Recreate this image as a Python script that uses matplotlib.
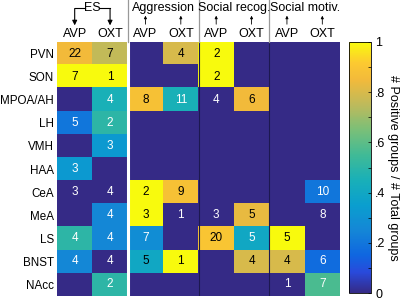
import numpy as np
import matplotlib
matplotlib.use("Agg")
import matplotlib.pyplot as plt
from matplotlib.colors import LinearSegmentedColormap

plt.rcParams['font.family'] = ['Liberation Sans', 'DejaVu Sans']

# Data
regions = ['PVN', 'SON', 'MPOA/AH', 'LH', 'VMH', 'HAA', 'CeA', 'MeA', 'LS', 'BNST', 'NAcc']
groups = ['ES', 'Aggression', 'Social recog.', 'Social motiv.']
peptides = ['AVP', 'OXT']

# fraction of positive groups, columns: ES AVP, ES OXT, Agg AVP, Agg OXT, SR AVP, SR OXT, SM AVP, SM OXT
frac = [
    [0.85, 0.76, 0.00, 0.80, 1.00, 0.00, 0.00, 0.00],
    [1.00, 1.00, 0.00, 0.00, 1.00, 0.00, 0.00, 0.00],
    [0.00, 0.45, 0.88, 0.45, 0.00, 0.85, 0.00, 0.00],
    [0.20, 0.50, 0.00, 0.00, 0.00, 0.00, 0.00, 0.00],
    [0.00, 0.33, 0.00, 0.00, 0.00, 0.00, 0.00, 0.00],
    [0.33, 0.00, 0.00, 0.00, 0.00, 0.00, 0.00, 0.00],
    [0.00, 0.00, 1.00, 0.88, 0.00, 0.00, 0.00, 0.20],
    [0.00, 0.25, 1.00, 0.00, 0.00, 0.83, 0.00, 0.00],
    [0.50, 0.25, 0.28, 0.00, 0.90, 0.40, 1.00, 0.00],
    [0.25, 0.00, 0.40, 1.00, 0.00, 0.80, 0.80, 0.17],
    [0.00, 0.50, 0.00, 0.00, 0.00, 0.00, 0.00, 0.57],
]
n = np.nan
# number of total groups (nan = no study)
totals = [
    [22, 7, n, 4, 2, n, n, n],
    [7, 1, n, n, 2, n, n, n],
    [n, 4, 8, 11, 4, 6, n, n],
    [5, 2, n, n, n, n, n, n],
    [n, 3, n, n, n, n, n, n],
    [3, n, n, n, n, n, n, n],
    [3, 4, 2, 9, n, n, n, 10],
    [n, 4, 3, 1, 3, 5, n, 8],
    [4, 4, 7, n, 20, 5, 5, n],
    [4, 4, 5, 1, n, 4, 4, 6],
    [n, 2, n, n, n, n, 1, 7],
]

# parula-like colormap
parula = LinearSegmentedColormap.from_list('parula', [
    (0.00, (0.208, 0.166, 0.529)),
    (0.08, (0.160, 0.290, 0.860)),
    (0.15, (0.060, 0.400, 0.880)),
    (0.25, (0.080, 0.530, 0.840)),
    (0.35, (0.040, 0.620, 0.810)),
    (0.45, (0.100, 0.690, 0.720)),
    (0.55, (0.250, 0.730, 0.590)),
    (0.65, (0.480, 0.750, 0.470)),
    (0.75, (0.740, 0.730, 0.360)),
    (0.85, (0.950, 0.730, 0.230)),
    (0.92, (0.990, 0.790, 0.190)),
    (1.00, (0.976, 0.983, 0.054)),
])

fig = plt.figure(figsize=(4, 3), dpi=100)
ax = fig.add_axes([0.1425, 0.0133, 0.7075, 0.8467])
cax = fig.add_axes([0.8725, 0.0233, 0.055, 0.8367])

data = np.array(frac)
im = ax.imshow(data, cmap=parula, vmin=0, vmax=1, aspect='auto')

black_extra = {(9, 2)}
for i in range(len(regions)):
    for j in range(data.shape[1]):
        t = totals[i][j]
        if np.isnan(t):
            continue
        c = 'black' if (data[i, j] > 0.6 or (i, j) in black_extra) else 'white'
        ax.text(j, i, f"{int(t)}", ha='center', va='center', fontsize=8.5, color=c)

ax.set_xticks([])
ax.set_yticks(range(len(regions)))
ax.set_yticklabels(regions, fontsize=8.4)
ax.tick_params(axis='y', length=0, pad=2)
for s in ax.spines.values():
    s.set_visible(False)

# separators inside the heatmap
ax.axvline(1.5, color='white', lw=2.2)
ax.axvline(3.5, color='#1c1850', lw=0.8)
ax.axvline(5.5, color='#1c1850', lw=0.8)

# header
y_top = -2.32
for xb in [1.5, 3.5, 5.5]:
    ax.plot([xb, xb], [y_top, -0.5], color='#999999', lw=0.9, clip_on=False)

y_pep = -0.86
y_grp = -1.97
for g in range(4):
    for k, p in enumerate(peptides):
        ax.text(2 * g + k, y_pep, p, ha='center', va='center', fontsize=9, clip_on=False)
    if g == 0:
        ax.text(0.5, y_grp, groups[g], ha='center', va='center', fontsize=9, clip_on=False)
        ax.plot([0, 0.3], [y_grp, y_grp], color='black', lw=0.8, clip_on=False)
        ax.plot([0.7, 1], [y_grp, y_grp], color='black', lw=0.8, clip_on=False)
        for xa in [0, 1]:
            ax.annotate('', xy=(xa, -1.22), xytext=(xa, y_grp + 0.02),
                        arrowprops=dict(arrowstyle='-|>', color='black', lw=0.8,
                                        mutation_scale=7, shrinkA=0, shrinkB=0),
                        annotation_clip=False)
    else:
        ax.text(2 * g + 0.5, y_grp, groups[g], ha='center', va='center', fontsize=9, clip_on=False)
        for xa in [2 * g, 2 * g + 1]:
            ax.annotate('', xy=(xa, -1.64), xytext=(xa, -1.27),
                        arrowprops=dict(arrowstyle='-|>', color='black', lw=0.6,
                                        mutation_scale=4, shrinkA=0, shrinkB=0),
                        annotation_clip=False)

ax.set_xlim(-0.5, 7.5)
ax.set_ylim(10.5, -0.5)

cb = fig.colorbar(im, cax=cax)
cb.set_ticks([0, 0.2, 0.4, 0.6, 0.8, 1])
cb.set_ticklabels(['0', '.2', '.4', '.6', '.8', '1'])
cb.ax.tick_params(labelsize=9, length=2, width=0.5, direction='in', pad=3)
cb.ax.minorticks_on()
cb.ax.yaxis.set_minor_locator(matplotlib.ticker.MultipleLocator(0.1))
cb.ax.tick_params(which='minor', length=2, width=0.5, direction='in')
cb.outline.set_linewidth(0.6)
cb.set_label('# Positive groups / # Total groups', rotation=270, fontsize=9, labelpad=10)

fig.savefig('out.png', dpi=100)
